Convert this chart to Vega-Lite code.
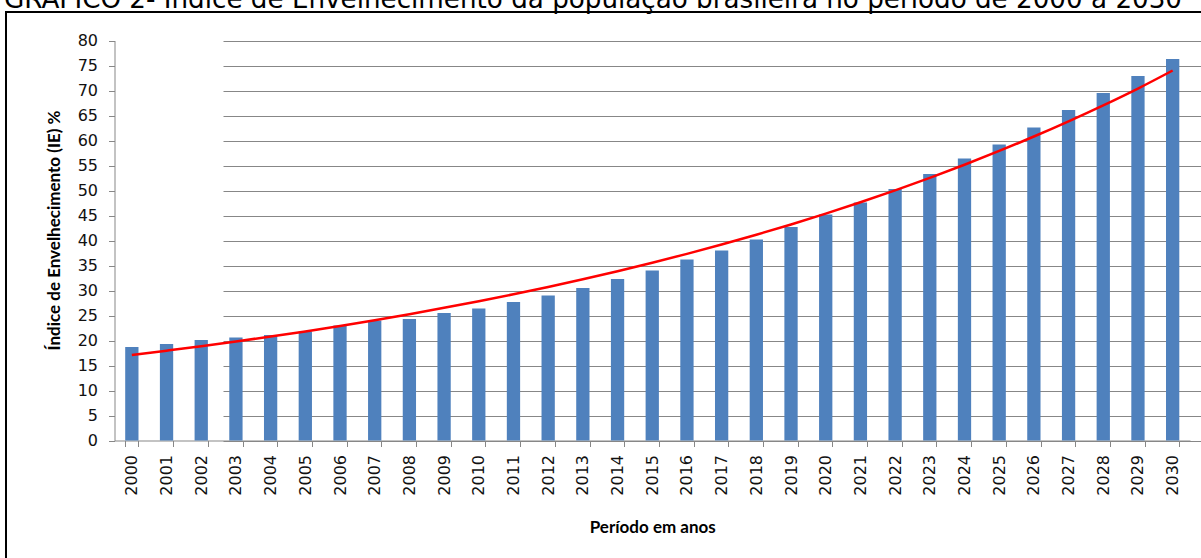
{
  "$schema": "https://vega.github.io/schema/vega-lite/v6.json",
  "autosize": {"type": "none"},
  "width": 1205,
  "height": 556,
  "padding": {"left": 6, "top": 12, "right": -10, "bottom": -10},
  "background": "white",
  "title": {
    "text": "GRÁFICO 2- Índice de Envelhecimento da população brasileira no período de 2000 a 2030",
    "anchor": "start",
    "frame": "group",
    "orient": "top",
    "offset": 0,
    "baseline": "alphabetic",
    "dx": -2,
    "dy": 22,
    "font": "DejaVu Sans",
    "fontSize": 26.2,
    "fontWeight": "normal",
    "color": "#000000"
  },
  "config": {
    "view": {"stroke": "#000000", "strokeWidth": 2},
    "axisX": {
      "offset": -127.5,
      "tickBand": "extent",
      "tickSize": 6,
      "tickColor": "#878787",
      "domainColor": "#878787",
      "labelAngle": -90,
      "labelPadding": 8,
      "grid": false,
      "labelFont": "DejaVu Sans",
      "labelFontSize": 16,
      "labelColor": "#111111",
      "titleFont": "Lato",
      "titleFontSize": 17,
      "titleFontWeight": "bold",
      "titleColor": "#000000",
      "titlePadding": 24
    },
    "axisY": {
      "offset": -108.5,
      "grid": true,
      "gridColor": "#878787",
      "gridWidth": 1,
      "tickCount": 16,
      "tickSize": 6,
      "tickColor": "#878787",
      "domainColor": "#878787",
      "labelPadding": 11,
      "labelFont": "DejaVu Sans",
      "labelFontSize": 16,
      "labelColor": "#111111",
      "titleFont": "Lato",
      "titleFontSize": 17,
      "titleFontWeight": "bold",
      "titleColor": "#000000",
      "titlePadding": 14,
      "titleY": 218
    }
  },
  "data": {
    "values": [
      {"ano": "2000", "ie": 18.7, "tend": 17.10},
      {"ano": "2001", "ie": 19.3, "tend": 17.96},
      {"ano": "2002", "ie": 20.1, "tend": 18.85},
      {"ano": "2003", "ie": 20.6, "tend": 19.80},
      {"ano": "2004", "ie": 21.1, "tend": 20.79},
      {"ano": "2005", "ie": 21.8, "tend": 21.82},
      {"ano": "2006", "ie": 23.0, "tend": 22.92},
      {"ano": "2007", "ie": 24.0, "tend": 24.06},
      {"ano": "2008", "ie": 24.3, "tend": 25.27},
      {"ano": "2009", "ie": 25.5, "tend": 26.53},
      {"ano": "2010", "ie": 26.4, "tend": 27.85},
      {"ano": "2011", "ie": 27.7, "tend": 29.25},
      {"ano": "2012", "ie": 29.0, "tend": 30.71},
      {"ano": "2013", "ie": 30.5, "tend": 32.24},
      {"ano": "2014", "ie": 32.3, "tend": 33.86},
      {"ano": "2015", "ie": 34.0, "tend": 35.55},
      {"ano": "2016", "ie": 36.2, "tend": 37.33},
      {"ano": "2017", "ie": 38.0, "tend": 39.19},
      {"ano": "2018", "ie": 40.2, "tend": 41.15},
      {"ano": "2019", "ie": 42.7, "tend": 43.21},
      {"ano": "2020", "ie": 45.2, "tend": 45.37},
      {"ano": "2021", "ie": 47.6, "tend": 47.64},
      {"ano": "2022", "ie": 50.3, "tend": 50.02},
      {"ano": "2023", "ie": 53.3, "tend": 52.52},
      {"ano": "2024", "ie": 56.4, "tend": 55.15},
      {"ano": "2025", "ie": 59.2, "tend": 57.91},
      {"ano": "2026", "ie": 62.6, "tend": 60.80},
      {"ano": "2027", "ie": 66.1, "tend": 63.84},
      {"ano": "2028", "ie": 69.5, "tend": 67.03},
      {"ano": "2029", "ie": 72.9, "tend": 70.39},
      {"ano": "2030", "ie": 76.3, "tend": 74.00}
    ]
  },
  "encoding": {
    "x": {
      "field": "ano",
      "type": "nominal",
      "title": "Período em anos",
      "scale": {"range": [108.5, 1184], "paddingInner": 0.617, "paddingOuter": 0.3085}
    }
  },
  "layer": [
    {
      "mark": {"type": "bar", "color": "#4F81BD"},
      "encoding": {
        "y": {
          "field": "ie",
          "type": "quantitative",
          "title": "Índice de Envelhecimento (IE) %",
          "scale": {"domain": [0, 80], "range": [428.5, 28.5], "nice": false, "zero": true}
        }
      }
    },
    {
      "mark": {"type": "line", "color": "#FF0000", "strokeWidth": 2.5, "interpolate": "monotone"},
      "encoding": {
        "y": {
          "field": "tend",
          "type": "quantitative",
          "title": "Índice de Envelhecimento (IE) %"
        }
      }
    }
  ]
}
